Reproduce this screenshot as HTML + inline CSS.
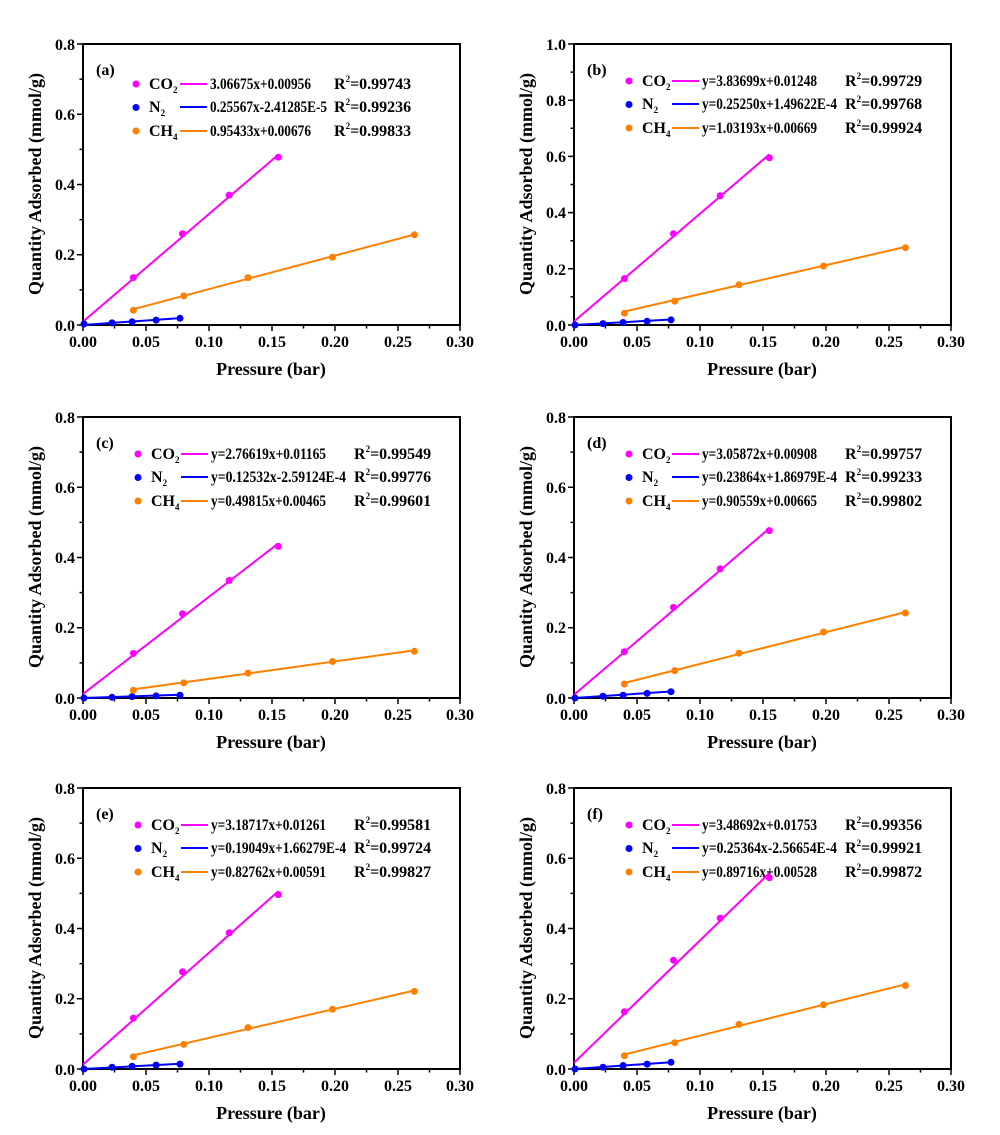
<!DOCTYPE html>
<html><head><meta charset="utf-8"><style>
html,body{margin:0;padding:0;background:#fff}
svg{display:block;font-family:"Liberation Serif","Times New Roman",serif}
text{font-family:"Liberation Serif","Times New Roman",serif;font-weight:700;fill:#000}
.t{font-size:16px}
.lg{font-size:16px}
.ax{font-size:18px}
.sub{font-size:9px}
</style></head><body>
<svg width="1000" height="1135" viewBox="0 0 1000 1135" xmlns="http://www.w3.org/2000/svg" font-family="Liberation Serif, serif" font-weight="bold">
<defs>
<g id="frame">
<rect x="0" y="0" width="377" height="281" fill="none" stroke="#000" stroke-width="2"/>
<path d="M0,281v6M63,281v6M126,281v6M189,281v6M252,281v6M315,281v6M377,281v6M31.5,281v3.5M94.5,281v3.5M157.5,281v3.5M220.5,281v3.5M283.5,281v3.5M346.5,281v3.5" stroke="#000" stroke-width="1.5"/>
</g>
<path id="y8" d="M0,0h-6M0,70.25h-6M0,140.5h-6M0,210.75h-6M0,281h-6M0,35.1h-3.5M0,105.4h-3.5M0,175.6h-3.5M0,245.9h-3.5" stroke="#000" stroke-width="1.5"/>
<path id="y10" d="M0,0h-6M0,56.2h-6M0,112.4h-6M0,168.6h-6M0,224.8h-6M0,281h-6M0,28.1h-3.5M0,84.3h-3.5M0,140.5h-3.5M0,196.7h-3.5M0,252.9h-3.5" stroke="#000" stroke-width="1.5"/>
<g id="lgm">
<circle cx="0" cy="0" r="3.5" fill="#ff00ff"/>
<circle cx="0" cy="23.5" r="3.5" fill="#0000ff"/>
<circle cx="0" cy="47" r="3.5" fill="#ff8000"/>
</g>
</defs>

<!-- (a) -->
<g transform="translate(83,44)">
<use href="#frame"/><use href="#y8"/>
<text class="t" x="0" y="303" text-anchor="middle">0.00</text><text class="t" x="63" y="303" text-anchor="middle">0.05</text><text class="t" x="126" y="303" text-anchor="middle">0.10</text><text class="t" x="189" y="303" text-anchor="middle">0.15</text><text class="t" x="252" y="303" text-anchor="middle">0.20</text><text class="t" x="315" y="303" text-anchor="middle">0.25</text><text class="t" x="377" y="303" text-anchor="middle">0.30</text>
<text class="ax" x="188" y="331" text-anchor="middle">Pressure (bar)</text>
<text class="ax" transform="translate(-42,140) rotate(-90)" text-anchor="middle">Quantity Adsorbed (mmol/g)</text>
<text class="t" x="-8" y="6" text-anchor="end">0.8</text><text class="t" x="-8" y="76" text-anchor="end">0.6</text><text class="t" x="-8" y="146" text-anchor="end">0.4</text><text class="t" x="-8" y="216" text-anchor="end">0.2</text><text class="t" x="-8" y="287" text-anchor="end">0.0</text>
<text class="ax" x="13" y="31" style="font-size:16px">(a)</text>
<use href="#lgm" x="53" y="40"/>
<text class="lg" x="66" y="45">CO<tspan class="sub" dy="4">2</tspan></text>
<text class="lg" x="66" y="68">N<tspan class="sub" dy="4">2</tspan></text>
<text class="lg" x="66" y="92">CH<tspan class="sub" dy="4">4</tspan></text>
<path d="M97,40h27" stroke="#ff00ff" stroke-width="2"/><path d="M97,63h27" stroke="#0000ff" stroke-width="2"/><path d="M97,87h27" stroke="#ff8000" stroke-width="2"/>
<text class="lg" x="127" y="45" textLength="101" lengthAdjust="spacingAndGlyphs">3.06675x+0.00956</text>
<text class="lg" x="127" y="68" textLength="117" lengthAdjust="spacingAndGlyphs">0.25567x-2.41285E-5</text>
<text class="lg" x="127" y="92" textLength="101" lengthAdjust="spacingAndGlyphs">0.95433x+0.00676</text>
<text class="lg" x="251" y="45">R<tspan class="sub" dy="-7">2</tspan><tspan dy="7">=0.99743</tspan></text>
<text class="lg" x="251" y="68">R<tspan class="sub" dy="-7">2</tspan><tspan dy="7">=0.99236</tspan></text>
<text class="lg" x="251" y="92">R<tspan class="sub" dy="-7">2</tspan><tspan dy="7">=0.99833</tspan></text>
<path d="M0,277.6L195.3,110.8" stroke="#ff00ff" stroke-width="2"/>
<path d="M0,281L97,274.1" stroke="#0000ff" stroke-width="2"/>
<path d="M50.4,265.2L331.4,190.5" stroke="#ff8000" stroke-width="2"/>
<g fill="#ff00ff"><circle cx="50.4" cy="233.6" r="3.5"/><circle cx="99.5" cy="189.7" r="3.5"/><circle cx="146.2" cy="151.1" r="3.5"/><circle cx="195.3" cy="113.2" r="3.5"/></g>
<g fill="#0000ff"><circle cx="1" cy="280" r="3.5"/><circle cx="29" cy="278.9" r="3.5"/><circle cx="49.1" cy="277.8" r="3.5"/><circle cx="73.1" cy="276.1" r="3.5"/><circle cx="97" cy="274.3" r="3.5"/></g>
<g fill="#ff8000"><circle cx="50.4" cy="266.3" r="3.5"/><circle cx="100.8" cy="251.9" r="3.5"/><circle cx="165" cy="233.6" r="3.5"/><circle cx="249.5" cy="213.3" r="3.5"/><circle cx="331.4" cy="190.8" r="3.5"/></g>
</g>

<!-- (b) -->
<g transform="translate(574,44)">
<use href="#frame"/><use href="#y10"/>
<text class="t" x="0" y="303" text-anchor="middle">0.00</text><text class="t" x="63" y="303" text-anchor="middle">0.05</text><text class="t" x="126" y="303" text-anchor="middle">0.10</text><text class="t" x="189" y="303" text-anchor="middle">0.15</text><text class="t" x="252" y="303" text-anchor="middle">0.20</text><text class="t" x="315" y="303" text-anchor="middle">0.25</text><text class="t" x="377" y="303" text-anchor="middle">0.30</text>
<text class="ax" x="188" y="331" text-anchor="middle">Pressure (bar)</text>
<text class="ax" transform="translate(-42,140) rotate(-90)" text-anchor="middle">Quantity Adsorbed (mmol/g)</text>
<text class="t" x="-8" y="6" text-anchor="end">1.0</text><text class="t" x="-8" y="62" text-anchor="end">0.8</text><text class="t" x="-8" y="118" text-anchor="end">0.6</text><text class="t" x="-8" y="174" text-anchor="end">0.4</text><text class="t" x="-8" y="231" text-anchor="end">0.2</text><text class="t" x="-8" y="287" text-anchor="end">0.0</text>
<text class="ax" x="13" y="31" style="font-size:16px">(b)</text>
<use href="#lgm" x="55" y="37"/>
<text class="lg" x="68" y="42">CO<tspan class="sub" dy="4">2</tspan></text>
<text class="lg" x="68" y="65">N<tspan class="sub" dy="4">2</tspan></text>
<text class="lg" x="68" y="89">CH<tspan class="sub" dy="4">4</tspan></text>
<path d="M98,37h27" stroke="#ff00ff" stroke-width="2"/><path d="M98,60h27" stroke="#0000ff" stroke-width="2"/><path d="M98,84h27" stroke="#ff8000" stroke-width="2"/>
<text class="lg" x="128" y="42" textLength="115" lengthAdjust="spacingAndGlyphs">y=3.83699x+0.01248</text>
<text class="lg" x="128" y="65" textLength="135" lengthAdjust="spacingAndGlyphs">y=0.25250x+1.49622E-4</text>
<text class="lg" x="128" y="89" textLength="115" lengthAdjust="spacingAndGlyphs">y=1.03193x+0.00669</text>
<text class="lg" x="271" y="42">R<tspan class="sub" dy="-7">2</tspan><tspan dy="7">=0.99729</tspan></text>
<text class="lg" x="271" y="65">R<tspan class="sub" dy="-7">2</tspan><tspan dy="7">=0.99768</tspan></text>
<text class="lg" x="271" y="89">R<tspan class="sub" dy="-7">2</tspan><tspan dy="7">=0.99924</tspan></text>
<path d="M0,277.5L195.3,110.4" stroke="#ff00ff" stroke-width="2"/>
<path d="M0,281L97,275.5" stroke="#0000ff" stroke-width="2"/>
<path d="M50.4,267.5L331.4,202.9" stroke="#ff8000" stroke-width="2"/>
<g fill="#ff00ff"><circle cx="50.4" cy="234.6" r="3.5"/><circle cx="99.5" cy="189.7" r="3.5"/><circle cx="146.2" cy="151.7" r="3.5"/><circle cx="195.3" cy="113.8" r="3.5"/></g>
<g fill="#0000ff"><circle cx="1" cy="281" r="3.5"/><circle cx="29" cy="279.6" r="3.5"/><circle cx="49.1" cy="278.5" r="3.5"/><circle cx="73.1" cy="277.3" r="3.5"/><circle cx="97" cy="275.9" r="3.5"/></g>
<g fill="#ff8000"><circle cx="50.4" cy="269.2" r="3.5"/><circle cx="100.8" cy="257.1" r="3.5"/><circle cx="165" cy="240.8" r="3.5"/><circle cx="249.5" cy="222" r="3.5"/><circle cx="331.4" cy="203.7" r="3.5"/></g>
</g>

<!-- (c) -->
<g transform="translate(83,417)">
<use href="#frame"/><use href="#y8"/>
<text class="t" x="0" y="303" text-anchor="middle">0.00</text><text class="t" x="63" y="303" text-anchor="middle">0.05</text><text class="t" x="126" y="303" text-anchor="middle">0.10</text><text class="t" x="189" y="303" text-anchor="middle">0.15</text><text class="t" x="252" y="303" text-anchor="middle">0.20</text><text class="t" x="315" y="303" text-anchor="middle">0.25</text><text class="t" x="377" y="303" text-anchor="middle">0.30</text>
<text class="ax" x="188" y="331" text-anchor="middle">Pressure (bar)</text>
<text class="ax" transform="translate(-42,140) rotate(-90)" text-anchor="middle">Quantity Adsorbed (mmol/g)</text>
<text class="t" x="-8" y="6" text-anchor="end">0.8</text><text class="t" x="-8" y="76" text-anchor="end">0.6</text><text class="t" x="-8" y="146" text-anchor="end">0.4</text><text class="t" x="-8" y="216" text-anchor="end">0.2</text><text class="t" x="-8" y="287" text-anchor="end">0.0</text>
<text class="ax" x="13" y="31" style="font-size:16px">(c)</text>
<use href="#lgm" x="55" y="37"/>
<text class="lg" x="68" y="42">CO<tspan class="sub" dy="4">2</tspan></text>
<text class="lg" x="68" y="65">N<tspan class="sub" dy="4">2</tspan></text>
<text class="lg" x="68" y="89">CH<tspan class="sub" dy="4">4</tspan></text>
<path d="M98,37h27" stroke="#ff00ff" stroke-width="2"/><path d="M98,60h27" stroke="#0000ff" stroke-width="2"/><path d="M98,84h27" stroke="#ff8000" stroke-width="2"/>
<text class="lg" x="128" y="42" textLength="115" lengthAdjust="spacingAndGlyphs">y=2.76619x+0.01165</text>
<text class="lg" x="128" y="65" textLength="135" lengthAdjust="spacingAndGlyphs">y=0.12532x-2.59124E-4</text>
<text class="lg" x="128" y="89" textLength="115" lengthAdjust="spacingAndGlyphs">y=0.49815x+0.00465</text>
<text class="lg" x="271" y="42">R<tspan class="sub" dy="-7">2</tspan><tspan dy="7">=0.99549</tspan></text>
<text class="lg" x="271" y="65">R<tspan class="sub" dy="-7">2</tspan><tspan dy="7">=0.99776</tspan></text>
<text class="lg" x="271" y="89">R<tspan class="sub" dy="-7">2</tspan><tspan dy="7">=0.99601</tspan></text>
<path d="M0,276.9L195.3,126.4" stroke="#ff00ff" stroke-width="2"/>
<path d="M0,281L97,277.7" stroke="#0000ff" stroke-width="2"/>
<path d="M50.4,272.4L331.4,233.4" stroke="#ff8000" stroke-width="2"/>
<g fill="#ff00ff"><circle cx="50.4" cy="236.4" r="3.5"/><circle cx="99.5" cy="196.8" r="3.5"/><circle cx="146.2" cy="163.4" r="3.5"/><circle cx="195.3" cy="129.4" r="3.5"/></g>
<g fill="#0000ff"><circle cx="1" cy="281" r="3.5"/><circle cx="29" cy="280.3" r="3.5"/><circle cx="49.1" cy="279.6" r="3.5"/><circle cx="73.1" cy="278.9" r="3.5"/><circle cx="97" cy="278.2" r="3.5"/></g>
<g fill="#ff8000"><circle cx="50.4" cy="273.3" r="3.5"/><circle cx="100.8" cy="265.9" r="3.5"/><circle cx="165" cy="256.1" r="3.5"/><circle cx="249.5" cy="244.5" r="3.5"/><circle cx="331.4" cy="234.3" r="3.5"/></g>
</g>

<!-- (d) -->
<g transform="translate(574,417)">
<use href="#frame"/><use href="#y8"/>
<text class="t" x="0" y="303" text-anchor="middle">0.00</text><text class="t" x="63" y="303" text-anchor="middle">0.05</text><text class="t" x="126" y="303" text-anchor="middle">0.10</text><text class="t" x="189" y="303" text-anchor="middle">0.15</text><text class="t" x="252" y="303" text-anchor="middle">0.20</text><text class="t" x="315" y="303" text-anchor="middle">0.25</text><text class="t" x="377" y="303" text-anchor="middle">0.30</text>
<text class="ax" x="188" y="331" text-anchor="middle">Pressure (bar)</text>
<text class="ax" transform="translate(-42,140) rotate(-90)" text-anchor="middle">Quantity Adsorbed (mmol/g)</text>
<text class="t" x="-8" y="6" text-anchor="end">0.8</text><text class="t" x="-8" y="76" text-anchor="end">0.6</text><text class="t" x="-8" y="146" text-anchor="end">0.4</text><text class="t" x="-8" y="216" text-anchor="end">0.2</text><text class="t" x="-8" y="287" text-anchor="end">0.0</text>
<text class="ax" x="13" y="31" style="font-size:16px">(d)</text>
<use href="#lgm" x="55" y="37"/>
<text class="lg" x="68" y="42">CO<tspan class="sub" dy="4">2</tspan></text>
<text class="lg" x="68" y="65">N<tspan class="sub" dy="4">2</tspan></text>
<text class="lg" x="68" y="89">CH<tspan class="sub" dy="4">4</tspan></text>
<path d="M98,37h27" stroke="#ff00ff" stroke-width="2"/><path d="M98,60h27" stroke="#0000ff" stroke-width="2"/><path d="M98,84h27" stroke="#ff8000" stroke-width="2"/>
<text class="lg" x="128" y="42" textLength="115" lengthAdjust="spacingAndGlyphs">y=3.05872x+0.00908</text>
<text class="lg" x="128" y="65" textLength="135" lengthAdjust="spacingAndGlyphs">y=0.23864x+1.86979E-4</text>
<text class="lg" x="128" y="89" textLength="115" lengthAdjust="spacingAndGlyphs">y=0.90559x+0.00665</text>
<text class="lg" x="271" y="42">R<tspan class="sub" dy="-7">2</tspan><tspan dy="7">=0.99757</tspan></text>
<text class="lg" x="271" y="65">R<tspan class="sub" dy="-7">2</tspan><tspan dy="7">=0.99233</tspan></text>
<text class="lg" x="271" y="89">R<tspan class="sub" dy="-7">2</tspan><tspan dy="7">=0.99802</tspan></text>
<path d="M0,277.8L195.3,111.5" stroke="#ff00ff" stroke-width="2"/>
<path d="M0,281L97,274.5" stroke="#0000ff" stroke-width="2"/>
<path d="M50.4,266L331.4,195.1" stroke="#ff8000" stroke-width="2"/>
<g fill="#ff00ff"><circle cx="50.4" cy="234.7" r="3.5"/><circle cx="99.5" cy="190.4" r="3.5"/><circle cx="146.2" cy="151.8" r="3.5"/><circle cx="195.3" cy="113.6" r="3.5"/></g>
<g fill="#0000ff"><circle cx="1" cy="281" r="3.5"/><circle cx="29" cy="279.2" r="3.5"/><circle cx="49.1" cy="278.2" r="3.5"/><circle cx="73.1" cy="276.4" r="3.5"/><circle cx="97" cy="274.7" r="3.5"/></g>
<g fill="#ff8000"><circle cx="50.4" cy="267" r="3.5"/><circle cx="100.8" cy="253.6" r="3.5"/><circle cx="165" cy="236.1" r="3.5"/><circle cx="249.5" cy="215" r="3.5"/><circle cx="331.4" cy="196" r="3.5"/></g>
</g>

<!-- (e) -->
<g transform="translate(83,788)">
<use href="#frame"/><use href="#y8"/>
<text class="t" x="0" y="303" text-anchor="middle">0.00</text><text class="t" x="63" y="303" text-anchor="middle">0.05</text><text class="t" x="126" y="303" text-anchor="middle">0.10</text><text class="t" x="189" y="303" text-anchor="middle">0.15</text><text class="t" x="252" y="303" text-anchor="middle">0.20</text><text class="t" x="315" y="303" text-anchor="middle">0.25</text><text class="t" x="377" y="303" text-anchor="middle">0.30</text>
<text class="ax" x="188" y="331" text-anchor="middle">Pressure (bar)</text>
<text class="ax" transform="translate(-42,140) rotate(-90)" text-anchor="middle">Quantity Adsorbed (mmol/g)</text>
<text class="t" x="-8" y="6" text-anchor="end">0.8</text><text class="t" x="-8" y="76" text-anchor="end">0.6</text><text class="t" x="-8" y="146" text-anchor="end">0.4</text><text class="t" x="-8" y="216" text-anchor="end">0.2</text><text class="t" x="-8" y="287" text-anchor="end">0.0</text>
<text class="ax" x="13" y="31" style="font-size:16px">(e)</text>
<use href="#lgm" x="55" y="37"/>
<text class="lg" x="68" y="42">CO<tspan class="sub" dy="4">2</tspan></text>
<text class="lg" x="68" y="65">N<tspan class="sub" dy="4">2</tspan></text>
<text class="lg" x="68" y="89">CH<tspan class="sub" dy="4">4</tspan></text>
<path d="M98,37h27" stroke="#ff00ff" stroke-width="2"/><path d="M98,60h27" stroke="#0000ff" stroke-width="2"/><path d="M98,84h27" stroke="#ff8000" stroke-width="2"/>
<text class="lg" x="128" y="42" textLength="115" lengthAdjust="spacingAndGlyphs">y=3.18717x+0.01261</text>
<text class="lg" x="128" y="65" textLength="135" lengthAdjust="spacingAndGlyphs">y=0.19049x+1.66279E-4</text>
<text class="lg" x="128" y="89" textLength="115" lengthAdjust="spacingAndGlyphs">y=0.82762x+0.00591</text>
<text class="lg" x="271" y="42">R<tspan class="sub" dy="-7">2</tspan><tspan dy="7">=0.99581</tspan></text>
<text class="lg" x="271" y="65">R<tspan class="sub" dy="-7">2</tspan><tspan dy="7">=0.99724</tspan></text>
<text class="lg" x="271" y="89">R<tspan class="sub" dy="-7">2</tspan><tspan dy="7">=0.99827</tspan></text>
<path d="M0,276.6L195.3,103.2" stroke="#ff00ff" stroke-width="2"/>
<path d="M0,281L97,275.8" stroke="#0000ff" stroke-width="2"/>
<path d="M50.4,267.3L331.4,202.5" stroke="#ff8000" stroke-width="2"/>
<g fill="#ff00ff"><circle cx="50.4" cy="230.1" r="3.5"/><circle cx="99.5" cy="183.8" r="3.5"/><circle cx="146.2" cy="144.8" r="3.5"/><circle cx="195.3" cy="106.6" r="3.5"/></g>
<g fill="#0000ff"><circle cx="1" cy="281" r="3.5"/><circle cx="29" cy="279.2" r="3.5"/><circle cx="49.1" cy="278.2" r="3.5"/><circle cx="73.1" cy="277.1" r="3.5"/><circle cx="97" cy="276.1" r="3.5"/></g>
<g fill="#ff8000"><circle cx="50.4" cy="268.7" r="3.5"/><circle cx="100.8" cy="256.4" r="3.5"/><circle cx="165" cy="239.6" r="3.5"/><circle cx="249.5" cy="221.3" r="3.5"/><circle cx="331.4" cy="203.4" r="3.5"/></g>
</g>

<!-- (f) -->
<g transform="translate(574,788)">
<use href="#frame"/><use href="#y8"/>
<text class="t" x="0" y="303" text-anchor="middle">0.00</text><text class="t" x="63" y="303" text-anchor="middle">0.05</text><text class="t" x="126" y="303" text-anchor="middle">0.10</text><text class="t" x="189" y="303" text-anchor="middle">0.15</text><text class="t" x="252" y="303" text-anchor="middle">0.20</text><text class="t" x="315" y="303" text-anchor="middle">0.25</text><text class="t" x="377" y="303" text-anchor="middle">0.30</text>
<text class="ax" x="188" y="331" text-anchor="middle">Pressure (bar)</text>
<text class="ax" transform="translate(-42,140) rotate(-90)" text-anchor="middle">Quantity Adsorbed (mmol/g)</text>
<text class="t" x="-8" y="6" text-anchor="end">0.8</text><text class="t" x="-8" y="76" text-anchor="end">0.6</text><text class="t" x="-8" y="146" text-anchor="end">0.4</text><text class="t" x="-8" y="216" text-anchor="end">0.2</text><text class="t" x="-8" y="287" text-anchor="end">0.0</text>
<text class="ax" x="13" y="31" style="font-size:16px">(f)</text>
<use href="#lgm" x="55" y="37"/>
<text class="lg" x="68" y="42">CO<tspan class="sub" dy="4">2</tspan></text>
<text class="lg" x="68" y="65">N<tspan class="sub" dy="4">2</tspan></text>
<text class="lg" x="68" y="89">CH<tspan class="sub" dy="4">4</tspan></text>
<path d="M98,37h27" stroke="#ff00ff" stroke-width="2"/><path d="M98,60h27" stroke="#0000ff" stroke-width="2"/><path d="M98,84h27" stroke="#ff8000" stroke-width="2"/>
<text class="lg" x="128" y="42" textLength="115" lengthAdjust="spacingAndGlyphs">y=3.48692x+0.01753</text>
<text class="lg" x="128" y="65" textLength="135" lengthAdjust="spacingAndGlyphs">y=0.25364x-2.56654E-4</text>
<text class="lg" x="128" y="89" textLength="115" lengthAdjust="spacingAndGlyphs">y=0.89716x+0.00528</text>
<text class="lg" x="271" y="42">R<tspan class="sub" dy="-7">2</tspan><tspan dy="7">=0.99356</tspan></text>
<text class="lg" x="271" y="65">R<tspan class="sub" dy="-7">2</tspan><tspan dy="7">=0.99921</tspan></text>
<text class="lg" x="271" y="89">R<tspan class="sub" dy="-7">2</tspan><tspan dy="7">=0.99872</tspan></text>
<path d="M0,274.8L195.3,85.1" stroke="#ff00ff" stroke-width="2"/>
<path d="M0,281L97,274.2" stroke="#0000ff" stroke-width="2"/>
<path d="M50.4,266.5L331.4,196.3" stroke="#ff8000" stroke-width="2"/>
<g fill="#ff00ff"><circle cx="50.4" cy="223.8" r="3.5"/><circle cx="99.5" cy="172.2" r="3.5"/><circle cx="146.2" cy="130.1" r="3.5"/><circle cx="195.3" cy="89.7" r="3.5"/></g>
<g fill="#0000ff"><circle cx="1" cy="281" r="3.5"/><circle cx="29" cy="279.2" r="3.5"/><circle cx="49.1" cy="277.5" r="3.5"/><circle cx="73.1" cy="276.1" r="3.5"/><circle cx="97" cy="274.3" r="3.5"/></g>
<g fill="#ff8000"><circle cx="50.4" cy="267.7" r="3.5"/><circle cx="100.8" cy="254.7" r="3.5"/><circle cx="165" cy="236.4" r="3.5"/><circle cx="249.5" cy="216.8" r="3.5"/><circle cx="331.4" cy="197.5" r="3.5"/></g>
</g>
</svg>
</body></html>
